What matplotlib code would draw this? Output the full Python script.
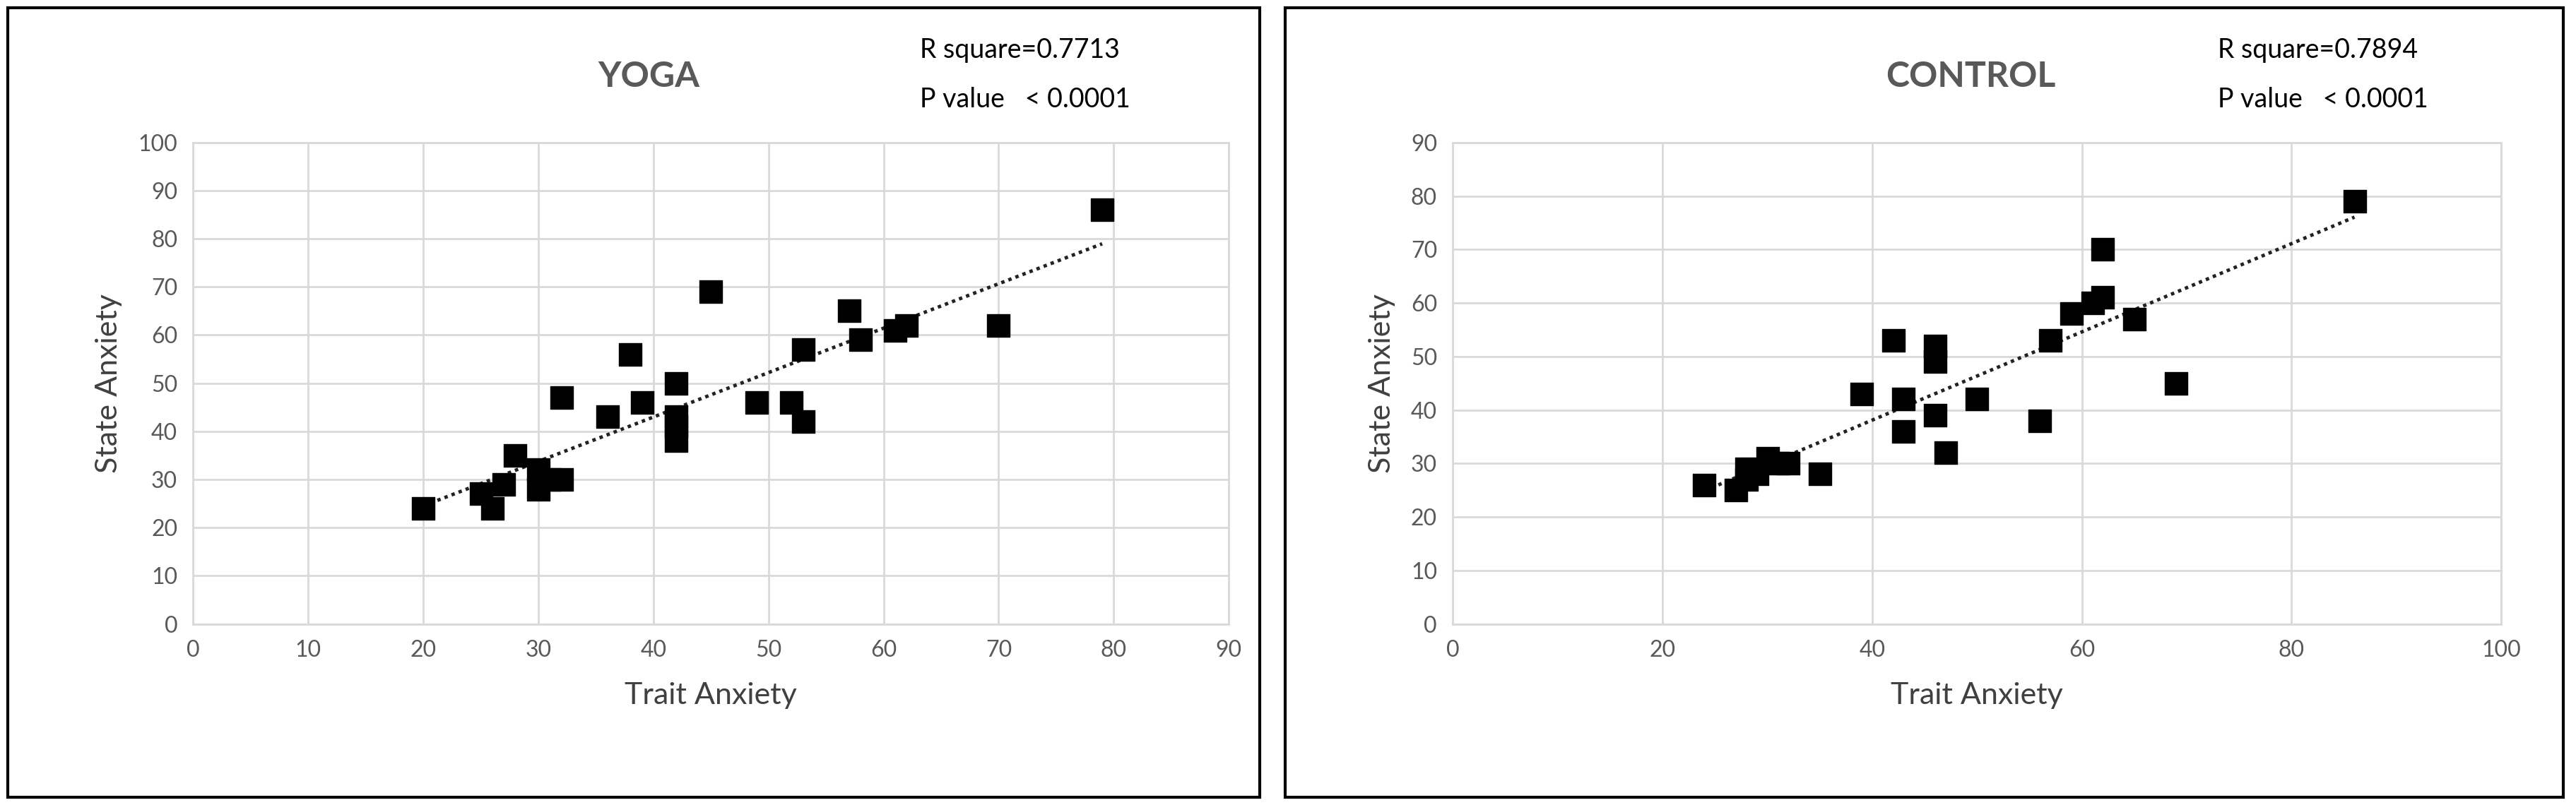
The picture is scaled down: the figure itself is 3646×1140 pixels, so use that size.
import matplotlib
matplotlib.use("Agg")
import matplotlib.pyplot as plt
import numpy as np
from matplotlib.patches import Rectangle

plt.rcParams['font.family'] = ['Lato', 'DejaVu Sans']

yoga_x = [20,25,26,27,28,30,30,31,32,32,36,38,39,42,42,42,42,45,49,52,53,53,57,58,61,62,70,79]
yoga_y = [24,27,24,29,35,32,28,30,30,47,43,56,46,50,43,41,38,69,46,46,42,57,65,59,61,62,62,86]
ctrl_x = [24,27,28,28,29,30,31,32,35,39,42,43,43,46,46,46,47,50,56,57,59,61,62,62,65,69,86]
ctrl_y = [26,25,29,27,28,31,30,30,28,43,53,42,36,52,49,39,32,42,38,53,58,60,61,70,57,45,79]

panels = [
    dict(x=yoga_x, y=yoga_y, title="YOGA", r2="R square=0.7713", xlim=90, xstep=10, ylim=100,
         ax=[0.075, 0.225, 0.402, 0.598], frame=(0.003, 0.010, 0.486, 0.980), tx=0.252, rx=0.357),
    dict(x=ctrl_x, y=ctrl_y, title="CONTROL", r2="R square=0.7894", xlim=100, xstep=20, ylim=90,
         ax=[0.564, 0.225, 0.407, 0.598], frame=(0.499, 0.010, 0.496, 0.980), tx=0.765, rx=0.861),
]

fig = plt.figure(figsize=(36.46, 11.4), dpi=100)
gray = "#595959"
for p in panels:
    fx, fy, fw, fh = p["frame"]
    fig.add_artist(Rectangle((fx, fy), fw, fh, transform=fig.transFigure, fill=False,
                             edgecolor="black", linewidth=3))
    ax = fig.add_axes(p["ax"])
    x = np.array(p["x"]); y = np.array(p["y"])
    ax.scatter(x, y, marker='s', s=560, color='black', zorder=3)
    k, b = np.polyfit(x, y, 1)
    xs = np.array([x.min(), x.max()])
    ax.plot(xs, k*xs+b, linestyle=(0, (1, 1.2)), color='#222222', linewidth=3.5, zorder=2)
    ax.set_xlim(0, p["xlim"]); ax.set_ylim(0, p["ylim"])
    ax.set_xticks(np.arange(0, p["xlim"]+1, p["xstep"]))
    ax.set_yticks(np.arange(0, p["ylim"]+1, 10))
    ax.grid(True, color="#d9d9d9", linewidth=2)
    ax.set_axisbelow(True)
    for s in ax.spines.values():
        s.set_color("#d9d9d9"); s.set_linewidth(2)
    ax.tick_params(length=0, labelsize=23, labelcolor=gray, pad=16)
    ax.set_xlabel("Trait Anxiety", fontsize=31, color="#404040", labelpad=22)
    ax.set_ylabel("State Anxiety", fontsize=31, color="#404040", labelpad=16)
    fig.text(p["tx"], 0.905, p["title"], fontsize=36, fontweight='bold', color=gray, ha='center', va='center')
    fig.text(p["rx"], 0.938, p["r2"], fontsize=27, color='black', va='center')
    fig.text(p["rx"], 0.876, "P value   < 0.0001", fontsize=27, color='black', va='center')

fig.savefig("out.png", dpi=100, facecolor='white')
